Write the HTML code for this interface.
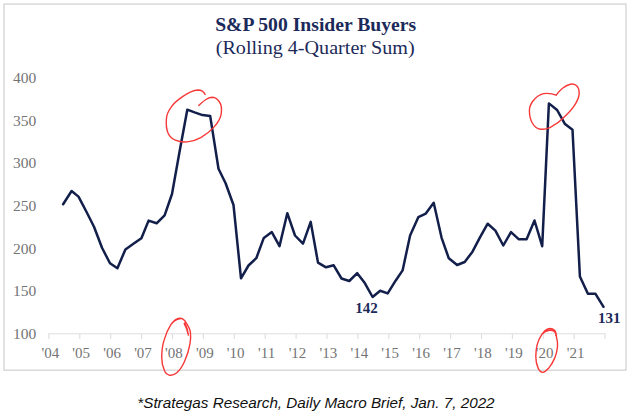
<!DOCTYPE html>
<html><head><meta charset="utf-8"><title>S&amp;P 500 Insider Buyers</title>
<style>
html,body{margin:0;padding:0;background:#fff;}
body{width:630px;height:413px;overflow:hidden;position:relative;}
svg{position:absolute;left:0;top:0;display:block;}
.ax{font-family:"Liberation Serif",serif;font-size:15.5px;fill:#747474;}
.axx{font-size:15px;}
.t1{font-family:"Liberation Serif",serif;font-weight:bold;font-size:18.5px;fill:#1b2a5a;}
.t2{font-family:"Liberation Serif",serif;font-size:18.5px;fill:#1b2a5a;}
.dl{font-family:"Liberation Serif",serif;font-weight:bold;font-size:15px;fill:#1b2a5a;}
.cap{font-family:"Liberation Sans",sans-serif;font-style:italic;font-size:15.3px;fill:#111;}
</style></head><body>
<svg width="630" height="413" viewBox="0 0 630 413">
<rect x="0" y="0" width="630" height="413" fill="#fff"/>
<rect x="4" y="4.1" width="622" height="366.1" fill="none" stroke="#d6d6d6" stroke-width="1.4"/>
<text x="315.7" y="31.3" text-anchor="middle" class="t1" textLength="201" lengthAdjust="spacingAndGlyphs">S&amp;P 500 Insider Buyers</text>
<text x="315.2" y="53.5" text-anchor="middle" class="t2" textLength="199" lengthAdjust="spacingAndGlyphs">(Rolling 4-Quarter Sum)</text>
<text x="13" y="82.6" class="ax">400</text>
<text x="13" y="125.5" class="ax">350</text>
<text x="13" y="168.2" class="ax">300</text>
<text x="13" y="210.9" class="ax">250</text>
<text x="13" y="253.6" class="ax">200</text>
<text x="13" y="296.3" class="ax">150</text>
<text x="13" y="339.0" class="ax">100</text>
<path d="M48.4,333.8H605.5" stroke="#dedede" stroke-width="1.1" fill="none"/>
<path d="M48.9,333.8V339M79.8,333.8V339M110.7,333.8V339M141.6,333.8V339M172.5,333.8V339M203.4,333.8V339M234.3,333.8V339M265.2,333.8V339M296.1,333.8V339M327.0,333.8V339M357.9,333.8V339M388.8,333.8V339M419.7,333.8V339M450.6,333.8V339M481.5,333.8V339M512.4,333.8V339M543.3,333.8V339M574.2,333.8V339M605.0,333.8V339" stroke="#dedede" stroke-width="1.1" fill="none"/>
<text x="50.3" y="357.7" class="ax axx" text-anchor="middle">&#39;04</text>
<text x="81.2" y="357.7" class="ax axx" text-anchor="middle">&#39;05</text>
<text x="112.1" y="357.7" class="ax axx" text-anchor="middle">&#39;06</text>
<text x="143.0" y="357.7" class="ax axx" text-anchor="middle">&#39;07</text>
<text x="173.9" y="357.7" class="ax axx" text-anchor="middle">&#39;08</text>
<text x="204.8" y="357.7" class="ax axx" text-anchor="middle">&#39;09</text>
<text x="235.7" y="357.7" class="ax axx" text-anchor="middle">&#39;10</text>
<text x="266.6" y="357.7" class="ax axx" text-anchor="middle">&#39;11</text>
<text x="297.5" y="357.7" class="ax axx" text-anchor="middle">&#39;12</text>
<text x="328.4" y="357.7" class="ax axx" text-anchor="middle">&#39;13</text>
<text x="359.3" y="357.7" class="ax axx" text-anchor="middle">&#39;14</text>
<text x="390.2" y="357.7" class="ax axx" text-anchor="middle">&#39;15</text>
<text x="421.1" y="357.7" class="ax axx" text-anchor="middle">&#39;16</text>
<text x="452.0" y="357.7" class="ax axx" text-anchor="middle">&#39;17</text>
<text x="482.9" y="357.7" class="ax axx" text-anchor="middle">&#39;18</text>
<text x="513.8" y="357.7" class="ax axx" text-anchor="middle">&#39;19</text>
<text x="544.7" y="357.7" class="ax axx" text-anchor="middle">&#39;20</text>
<text x="575.6" y="357.7" class="ax axx" text-anchor="middle">&#39;21</text>
<polyline points="63.1,204.2 71.6,191.0 78.5,196.6 86.3,211.5 94.0,226.8 102.0,247.8 110.0,263.3 117.4,268.3 125.4,249.4 133.4,243.8 141.4,238.2 148.6,220.6 156.6,223.3 164.6,215.3 172.0,194.0 179.4,152.5 187.3,109.7 194.6,112.4 202.5,115.1 210.2,116.1 218.5,168.8 225.6,183.3 233.5,205.0 241.0,278.3 248.5,265.5 256.3,258.2 263.8,237.9 271.8,232.1 279.5,246.1 287.3,213.2 295.0,235.5 303.0,243.7 310.7,221.9 318.0,262.6 326.0,267.3 333.7,265.3 341.5,278.5 349.3,281.0 357.2,273.2 364.8,283.1 372.6,297.0 380.2,290.7 387.7,293.4 395.6,280.7 402.6,270.4 410.1,235.4 418.3,217.2 425.8,213.6 433.7,202.7 441.6,237.8 448.8,258.3 457.1,265.0 464.7,262.0 472.5,251.7 480.1,237.2 487.7,223.7 495.4,230.6 503.3,245.5 511.0,232.1 518.9,239.3 526.6,239.3 534.5,220.5 542.2,246.2 548.9,103.4 557.1,110.0 565.0,124.1 572.5,129.8 579.9,276.4 587.9,293.8 595.5,293.8 603.5,306.8" fill="none" stroke="#131f4b" stroke-width="2.5" stroke-linejoin="round" stroke-linecap="round"/>
<text x="366.6" y="312.5" text-anchor="middle" class="dl">142</text>
<text x="609.3" y="322.8" text-anchor="middle" class="dl">131</text>
<g fill="none" stroke="#f73838" stroke-width="1.4" stroke-linecap="round" stroke-linejoin="round">
<path d="M205.1,94.4 C203.5,91 201.5,90 198,90 C192,90.3 187,93.5 182.2,96.9 C177,100.5 173.5,103.5 171.2,107.1 C168,111.5 166.4,115 166.4,119 C166,124 166.5,129 167.8,132.5 C169.5,136.5 172,139 175.4,140.2 C179,141.8 183,142.3 187.3,141.9 C192,141.3 196.5,140 200.8,137.6 C206,134.5 210.5,131 214.4,126.6 C218,122.5 220.5,118.5 221.2,113.9 C222,109 221.5,105 219.5,102 C217.5,99 215.5,97.5 212.7,97.3 C210,97.3 208,98.2 205.9,99.5 C203.5,101 201,103.5 198.8,105.4"/>
<path d="M556.2,95.2 C552,93.5 548,93 543.6,93.6 C539,94.5 535.5,97.5 532.6,101.5 C530.5,104.5 529.2,107.5 529.4,110.9 C529.5,116 530.5,120 532.6,123.5 C534.5,126.8 537,128.8 540.5,129.2 C544,129.6 547,129 549.9,127.6 C555,125 560,121.5 564,117.2 C568,113.5 572,109.5 575,104.6 C577.5,100.5 579,97.5 579.2,93.6 C579.3,90 578.5,87.5 576.6,85.7 C575,84.3 573,83.8 570.3,84.2 C567.5,84.8 565,86.2 562.5,88.3 C560,90.3 558,92.8 556.2,95.2"/>
<path d="M172,323.4 C174,320.5 176.5,318.5 179.7,318.2 C182.5,318.2 185,320 186.5,323.4 C188.5,326.5 190,329 190.4,332.1 C190.8,336 190.8,340 190,343.7 C189,350 187,356 184.6,361.2 C182.5,366 180,370 176.8,372.8 C174.5,374.8 172,375.8 169.1,375.1 C166.5,374.3 165,372.5 164.2,369.9 C162.5,366 161.7,362 161.7,357.3 C161.8,351 162.5,345 164.2,339.9 C165.8,334 168,329 171,324.4 C173.5,321 176.5,319.3 180,318.8"/>
<path d="M184.9,322.8 C186.5,326.5 188,331 188.4,335 C187.5,331 186,326.5 184.2,323.6"/>
<path d="M542,334.2 C543.5,331.5 545.5,329.8 547.8,329 C550,328.2 552.5,328.5 554.6,330.3 C556,332 556.3,334.5 556.5,337.1 C557.3,340 557.7,343.5 557.5,346.8 C557,351 556,355 554.6,358.4 C553,362 551,365.5 548.7,368.1 C546.5,370.5 545,372.3 542.9,372.4 C540.5,372.3 539,370.5 538.1,368.1 C536.5,364.5 535.8,360.5 535.8,356.5 C535.8,352.5 536.2,348.5 537.1,344.9 C538,341 539.8,337.5 542,334.2 C544,331.8 546.5,330.8 549.5,330.3 C552,329.9 554,330.5 555.3,332.5 C555.8,333.5 555.9,334.5 555.8,335.5"/>
</g>
<text x="137.3" y="407.8" class="cap" textLength="357.3" lengthAdjust="spacingAndGlyphs">*Strategas Research, Daily Macro Brief, Jan. 7, 2022</text>
</svg>
</body></html>
